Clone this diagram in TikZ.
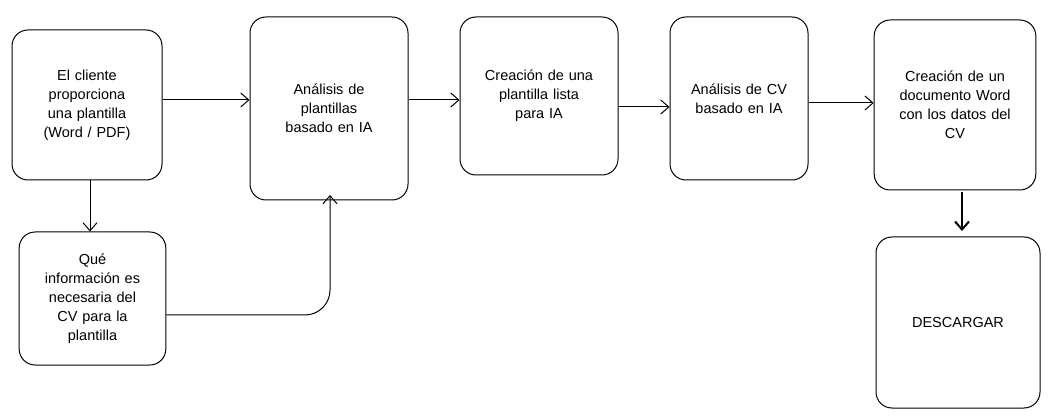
\documentclass[tikz,border=0pt]{standalone}
\usepackage{fontspec}
\setmainfont{Liberation Sans}
\usetikzlibrary{arrows.meta}
\begin{document}
\begin{tikzpicture}[x=1pt,y=-1pt,
 box/.style={draw,line width=1pt,rounded corners=16pt,align=center,font=\fontsize{14.5}{19}\selectfont},
 conn/.style={line width=1pt,-{Straight Barb[length=8pt,width=14pt]}}]
\useasboundingbox (0,0) rectangle (1057,419);
\fill[white] (0,0) rectangle (1057,419);
\node[box,minimum width=150pt,minimum height=150pt,text width=140pt] (a) at (87,105) {El cliente\\proporciona\\una plantilla\\(Word / PDF)};
\node[box,minimum width=145pt,minimum height=133pt,text width=140pt] (b) at (92.5,298.5) {Qué\\información es\\necesaria del\\CV para la\\plantilla};
\node[box,minimum width=158pt,minimum height=183pt,text width=145pt] (c) at (329,108.5) {Análisis de\\plantillas\\basado en IA};
\node[box,minimum width=158pt,minimum height=158pt,text width=150pt] (d) at (539,96) {Creación de una\\plantilla lista\\para IA};
\node[box,minimum width=138pt,minimum height=163pt,text width=130pt] (e) at (739,98.5) {Análisis de CV\\basado en IA};
\node[box,minimum width=160pt,minimum height=170pt,text width=155pt,yshift=-2pt] (f) at (955,103) {Creación de un\\documento Word\\con los datos del\\CV};
\node[box,minimum width=164pt,minimum height=171pt] (g) at (958,322.5) {DESCARGAR};
\draw[conn] (a.east|-0,100) -- (c.west|-0,100);
\draw[conn] (a.south) ++(3,0) coordinate (a1) -- (a1|-b.north);
\draw[conn] (b.east|-0,315) -- (305,315) to[out=0,in=-90] (330,290) -- (330,195);
\draw[conn] (c.east|-0,100) -- (d.west|-0,100);
\draw[conn] (d.east|-0,107) -- (e.west|-0,107);
\draw[conn] (e.east|-0,103) -- (f.west|-0,103);
\draw[conn,line width=2pt] (962,192) -- (962,231);
\end{tikzpicture}
\end{document}
